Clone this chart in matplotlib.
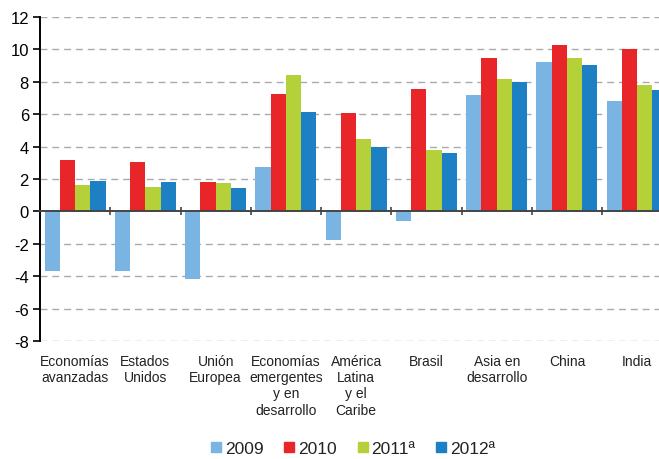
import matplotlib
matplotlib.use("Agg")
import matplotlib.pyplot as plt
from matplotlib.lines import Line2D
import numpy as np

plt.rcParams['font.family'] = ['Liberation Sans', 'DejaVu Sans']
plt.rcParams['axes.unicode_minus'] = False

categories = ["Economías\navanzadas", "Estados\nUnidos", "Unión\nEuropea",
              "Economías\nemergentes\ny en\ndesarrollo", "América\nLatina\ny el\nCaribe",
              "Brasil", "Asia en\ndesarrollo", "China", "India"]
years = ["2009", "2010", "2011ª", "2012ª"]
v2009 = [-3.7, -3.7, -4.2, 2.75, -1.75, -0.6, 7.2, 9.2, 6.8]
v2010 = [3.15, 3.05, 1.8, 7.25, 6.1, 7.55, 9.5, 10.25, 10.05]
v2011 = [1.6, 1.5, 1.75, 8.4, 4.5, 3.8, 8.2, 9.5, 7.8]
v2012 = [1.9, 1.8, 1.45, 6.15, 4.0, 3.6, 8.0, 9.05, 7.5]
colors = ["#7ab4e2", "#e8262a", "#b5d13a", "#1d7fc4"]

series = [v2009, v2010, v2011, v2012]

fig = plt.figure(figsize=(6.59, 4.6), dpi=100)
ax = fig.add_axes([40/659, 1-342/460, 1-40/659, (342-18)/460])

x = np.arange(len(categories))
w = 0.217
for i, vals in enumerate(series):
    ax.bar(x + (i - 1.5)*w, vals, w, color=colors[i], edgecolor='none', zorder=3)

ax.set_ylim(-8, 12)
ax.set_xlim(-0.5, 8.31)
ax.set_yticks(np.arange(-8, 13, 2))
for yv in np.arange(-8, 13, 2):
    if yv != 0:
        ax.axhline(yv, color='#aaaaaa', lw=1, ls=(0, (5, 3.5)), zorder=1)

for s in ['top', 'right']:
    ax.spines[s].set_visible(False)
ax.spines['left'].set_color('black')
ax.spines['left'].set_linewidth(1.4)
ax.spines['bottom'].set_position(('data', 0))
ax.spines['bottom'].set_color('#444444')
ax.spines['bottom'].set_linewidth(1.4)
ax.spines['bottom'].set_zorder(4)

ax.set_xticks(x[1:] - 0.5)
ax.tick_params(axis='x', direction='inout', length=6, width=1.2, color='#444444', labelbottom=False)
ax.tick_params(axis='y', direction='out', length=5, width=1.2, labelsize=12, pad=3)

trans = ax.get_xaxis_transform()
for xi, lab in zip(x, categories):
    ax.text(xi, -0.04, lab, transform=trans, ha='center', va='top', fontsize=10,
            linespacing=1.2, color='#222222')

handles = [Line2D([], [], marker='s', ls='none', color=c, markersize=7) for c in colors]
fig.legend(handles, years, loc='center', bbox_to_anchor=(0.533, 0.022), ncol=4, frameon=False,
           fontsize=12.5, handletextpad=0.0, columnspacing=1.0, handlelength=1.0,
           labelcolor='#222222')

fig.savefig("out.png", dpi=100)
